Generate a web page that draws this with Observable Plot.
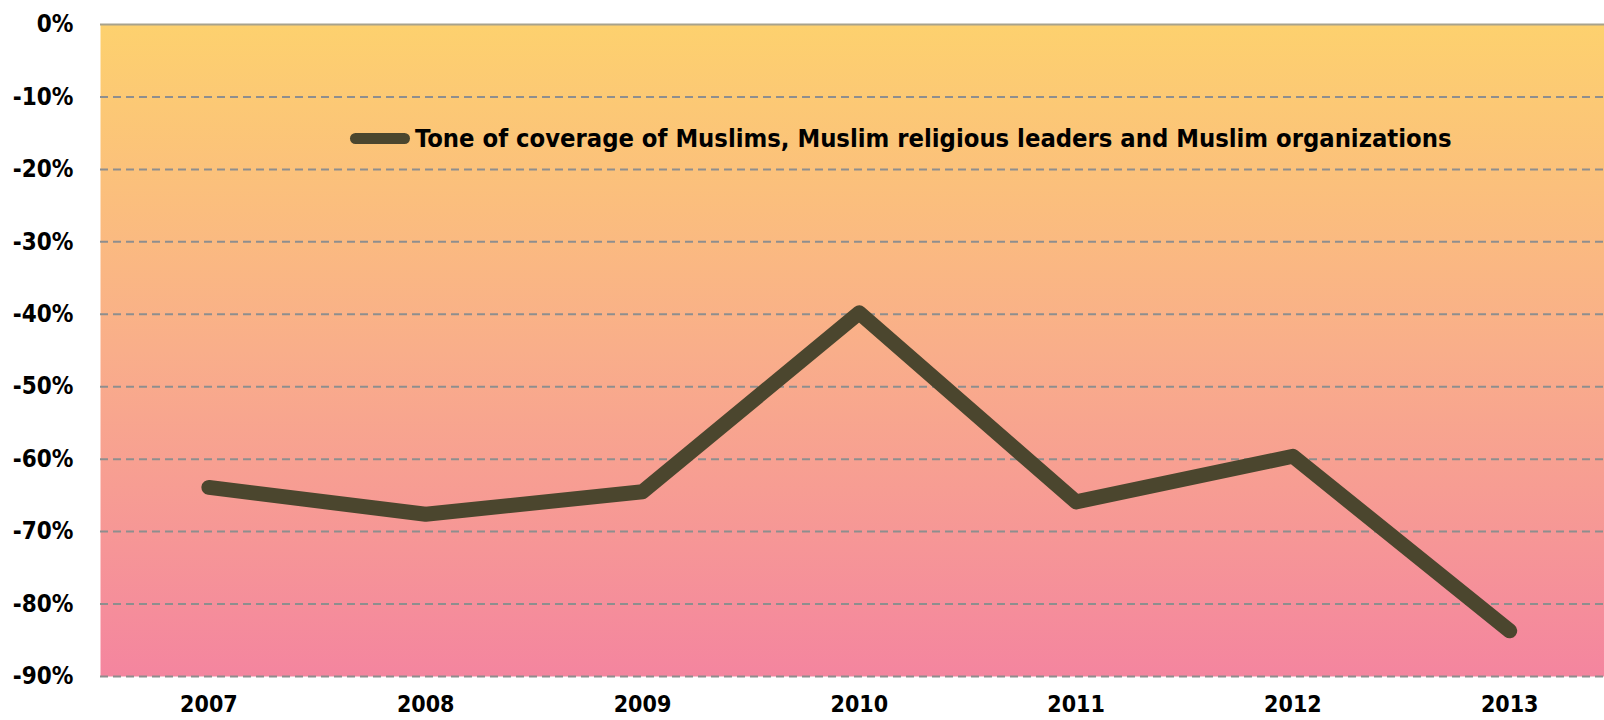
<!DOCTYPE html>
<html>
<head>
<meta charset="utf-8">
<script src="https://cdn.jsdelivr.net/npm/d3@7"></script>
<script src="https://cdn.jsdelivr.net/npm/@observablehq/plot@0.6"></script>
<style>
  html, body { margin: 0; padding: 0; background: #fff; overflow: hidden; }
  #wrap { position: relative; width: 1604px; height: 720px; }
  #wrap svg text { font-stretch: condensed; }
  #legend { position: absolute; left: 350px; top: 123px; height: 30px; display: flex; align-items: center; white-space: nowrap;
            font-family: "DejaVu Sans", sans-serif; font-stretch: condensed; font-weight: bold; color: #000; }
  #legend .swatch { width: 60px; height: 11px; border-radius: 6px; background: #4b462e; margin-right: 5px; flex: none; }
</style>
</head>
<body>
<div id="wrap"></div>
<script>
// ---- data ----
const years = [2007, 2008, 2009, 2010, 2011, 2012, 2013];
const tone = [-63.9, -67.6, -64.5, -39.8, -65.9, -59.6, -83.7];
const yTicks = [0, -10, -20, -30, -40, -50, -60, -70, -80, -90];
const gridTicks = [-10, -20, -30, -40, -50, -60, -70, -80, -90];
const seriesName = "Tone of coverage of Muslims, Muslim religious leaders and Muslim organizations";

const data = years.map((y, i) => ({year: y, value: tone[i]}));

const lineColor = "#4b462e";
const font = "DejaVu Sans, sans-serif";

const chart = Plot.plot({
  width: 1604,
  height: 720,
  marginLeft: 100,
  marginRight: 0,
  marginTop: 24,
  marginBottom: 44,
  style: {fontFamily: font, fontWeight: "bold", fontSize: "24px", color: "#000", background: "transparent", overflow: "hidden"},
  x: {domain: [2006.5, 2013.5], range: [100, 1617.6]},
  y: {domain: [-90, 0]},
  marks: [
    Plot.frame({fill: "url(#bgGrad)", stroke: "none"}),
    Plot.ruleY(gridTicks, {stroke: "#8e8e8e", strokeWidth: 2, strokeDasharray: "8,5"}),
    Plot.ruleY([0], {stroke: "#a8a28c", strokeWidth: 2}),
    Plot.line(data, {x: "year", y: "value", stroke: lineColor, strokeWidth: 15, strokeLinecap: "round", strokeLinejoin: "round"}),
    Plot.axisY(yTicks, {tickSize: 0, tickPadding: 27, tickFormat: d => d + "%", label: null, fill: "#000"}),
    Plot.axisX(years, {tickSize: 0, tickPadding: 19, fontSize: 23, tickFormat: d => String(d), label: null, fill: "#000"})
  ]
});

// gradient definition
const svg = d3.select(chart);
const defs = svg.insert("defs", ":first-child");
const grad = defs.append("linearGradient").attr("id", "bgGrad")
  .attr("x1", 0).attr("y1", 0).attr("x2", 0).attr("y2", 1);
[[0, "#fdd16e"], [0.5, "#f9ae8a"], [1, "#f4859f"]].forEach(([o, c]) =>
  grad.append("stop").attr("offset", o).attr("stop-color", c));

const wrap = document.getElementById("wrap");
wrap.appendChild(chart);

// legend (HTML overlay)
const legend = document.createElement("div");
legend.id = "legend";
const sw = document.createElement("div");
sw.className = "swatch";
const label = document.createElement("span");
label.textContent = seriesName;
label.style.fontSize = "20px";
legend.appendChild(sw);
legend.appendChild(label);
wrap.appendChild(legend);
// fit text width to reference (~1037px)
const w = label.getBoundingClientRect().width;
label.style.fontSize = Math.min(26, 20 * 1037 / w) + "px";
</script>
</body>
</html>
